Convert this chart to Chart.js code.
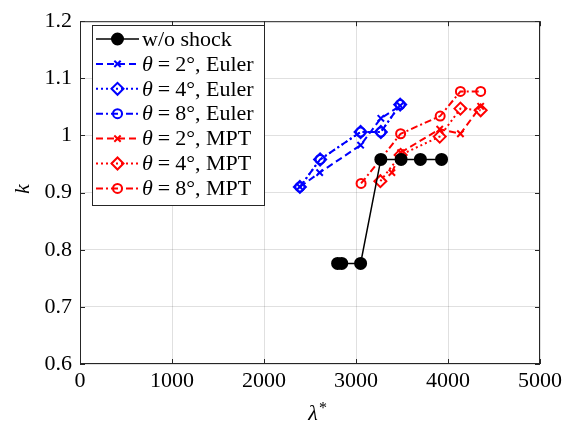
<!DOCTYPE html>
<html>
<head>
<meta charset="utf-8">
<script src="https://cdn.jsdelivr.net/npm/chart.js@4"></script>
<style>
  html, body { margin: 0; padding: 0; background: #fff; }
  #wrap { width: 566px; height: 423px; }
</style>
</head>
<body>
<div id="wrap"><canvas id="kChart" width="566" height="423"></canvas></div>
<script>
// tick positions
let xTicks = [0, 1000, 2000, 3000, 4000, 5000];
let yTicks = [0.6, 0.7, 0.8, 0.9, 1.0, 1.1, 1.2];

// without shock
let noShockX = [2800, 2845, 3050, 3270, 3490, 3700, 3930];
let noShockK = [0.776, 0.776, 0.776, 0.958, 0.958, 0.958, 0.958];

// Euler runs
let euler2X = [2390, 2605, 3050, 3270, 3480];
let euler2K = [0.910, 0.935, 0.983, 1.030, 1.052];
let euler4X = [2390, 2610, 3050, 3270, 3480];
let euler4K = [0.910, 0.958, 1.006, 1.006, 1.054];
let euler8X = [2390, 2610, 3050, 3270, 3480];
let euler8K = [0.910, 0.958, 1.006, 1.006, 1.054];

// MPT runs
let mpt2X = [3390, 3485, 3910, 4135, 4355];
let mpt2K = [0.935, 0.970, 1.011, 1.003, 1.051];
let mpt4X = [3265, 3485, 3910, 4135, 4355];
let mpt4K = [0.920, 0.966, 0.998, 1.047, 1.044];
let mpt8X = [3055, 3265, 3485, 3915, 4135, 4355];
let mpt8K = [0.916, 0.958, 1.003, 1.034, 1.077, 1.077];

const serif = '"Liberation Serif", "Times New Roman", serif';
const axisColor = '#262626';

function pts(xs, ks) {
    return xs.map((x, i) => ({ x: x, y: ks[i] }));
}

function series(label, xs, ks, color, dash, marker, size, filled) {
    return {
        label: label,
        data: pts(xs, ks),
        borderColor: color,
        backgroundColor: filled ? color : 'rgba(0,0,0,0)',
        borderWidth: 2,
        borderDash: dash,
        pointStyle: marker,
        pointRadius: size,
        pointBorderWidth: 2,
        pointBorderColor: color,
        pointBackgroundColor: filled ? color : 'rgba(0,0,0,0)',
        showLine: true,
        tension: 0
    };
}

const dashed = [7, 4];
const dotted = [2, 3];
const dashDot = [7, 3, 2, 3];

let datasets = [
    series('w/o shock', noShockX, noShockK, '#000000', [], 'circle', 5.5, true),
    series('θ = 2°, Euler', euler2X, euler2K, '#0000ff', dashed, 'crossRot', 4.5, false),
    series('θ = 4°, Euler', euler4X, euler4K, '#0000ff', dotted, 'rectRot', 6, false),
    series('θ = 8°, Euler', euler8X, euler8K, '#0000ff', dashDot, 'circle', 4.5, false),
    series('θ = 2°, MPT', mpt2X, mpt2K, '#ff0000', dashed, 'crossRot', 4.5, false),
    series('θ = 4°, MPT', mpt4X, mpt4K, '#ff0000', dotted, 'rectRot', 6, false),
    series('θ = 8°, MPT', mpt8X, mpt8K, '#ff0000', dashDot, 'circle', 4.5, false)
];
datasets[0].borderWidth = 1.5;

// box, inward ticks, axis titles and legend
let framePlugin = {
    id: 'frame',
    afterDraw(chart) {
        let ctx = chart.ctx;
        let a = chart.chartArea;
        let xs = chart.scales.x, ys = chart.scales.y;
        ctx.save();
        ctx.strokeStyle = axisColor;
        ctx.lineWidth = 1;
        ctx.setLineDash([]);
        ctx.strokeRect(a.left + 0.5, a.top + 0.5, a.right - a.left - 1, a.bottom - a.top - 1);
        ctx.beginPath();
        xTicks.forEach(v => {
            let px = Math.round(xs.getPixelForValue(v)) + 0.5;
            ctx.moveTo(px, a.bottom); ctx.lineTo(px, a.bottom - 5);
            ctx.moveTo(px, a.top); ctx.lineTo(px, a.top + 5);
        });
        yTicks.forEach(v => {
            let py = Math.round(ys.getPixelForValue(v)) + 0.5;
            ctx.moveTo(a.left, py); ctx.lineTo(a.left + 5, py);
            ctx.moveTo(a.right, py); ctx.lineTo(a.right - 5, py);
        });
        ctx.stroke();

        // axis titles
        ctx.fillStyle = '#000';
        ctx.font = 'italic 22px ' + serif;
        ctx.textAlign = 'center';
        ctx.textBaseline = 'alphabetic';
        ctx.fillText('λ', 313, 420);
        ctx.font = '16px ' + serif;
        ctx.fillText('*', 323, 413);
        ctx.save();
        ctx.translate(29, 189);
        ctx.rotate(-Math.PI / 2);
        ctx.font = 'italic 22px ' + serif;
        ctx.fillText('k', 0, 0);
        ctx.restore();

        drawLegend(chart);
        ctx.restore();
    }
};

function drawLegend(chart) {
    let ctx = chart.ctx;
    let box = { x: 92.5, y: 25.5, w: 172, h: 180 };
    ctx.fillStyle = '#fff';
    ctx.fillRect(box.x, box.y, box.w, box.h);
    ctx.strokeStyle = axisColor;
    ctx.lineWidth = 1;
    ctx.setLineDash([]);
    ctx.strokeRect(box.x, box.y, box.w, box.h);

    chart.data.datasets.forEach((ds, i) => {
        let y = 39 + i * 24.9;
        ctx.save();
        ctx.strokeStyle = ds.borderColor;
        ctx.lineWidth = ds.borderWidth;
        ctx.setLineDash(ds.borderDash);
        ctx.beginPath();
        ctx.moveTo(96, y);
        ctx.lineTo(139, y);
        ctx.stroke();
        ctx.setLineDash([]);
        ctx.lineWidth = ds.pointBorderWidth;
        ctx.fillStyle = ds.pointBackgroundColor;
        Chart.helpers.drawPoint(ctx, {
            pointStyle: ds.pointStyle,
            radius: ds.pointRadius,
            rotation: 0,
            borderWidth: ds.pointBorderWidth
        }, 117.5, y);
        ctx.restore();

        ctx.fillStyle = '#000';
        ctx.textAlign = 'left';
        ctx.textBaseline = 'middle';
        let x = 142;
        let text = ds.label;
        if (text.startsWith('θ')) {
            // math-style spacing around the equals sign
            ctx.font = 'italic 22px ' + serif;
            ctx.fillText('θ', x, y + 1);
            x += ctx.measureText('θ').width + 5;
            ctx.font = '22px ' + serif;
            ctx.fillText('=', x, y + 1);
            x += ctx.measureText('=').width + 5;
            text = text.slice(text.indexOf('=') + 2);
        }
        ctx.font = '22px ' + serif;
        ctx.fillText(text, x, y + 1);
    });
}

new Chart(document.getElementById('kChart'), {
    type: 'scatter',
    data: { datasets: datasets },
    plugins: [framePlugin],
    options: {
        responsive: false,
        animation: false,
        layout: { padding: { top: 14, right: 22, left: 0, bottom: 0 } },
        plugins: {
            legend: { display: false },
            tooltip: { enabled: false }
        },
        scales: {
            x: {
                type: 'linear',
                min: 0,
                max: 5000,
                afterBuildTicks: s => { s.ticks = xTicks.map(v => ({ value: v })); },
                afterFit: s => { s.height = 59; },
                border: { display: false },
                grid: { color: 'rgba(0,0,0,0.12)', drawTicks: false },
                ticks: {
                    color: '#000',
                    padding: 4,
                    maxRotation: 0,
                    font: { family: serif, size: 22 },
                    callback: v => String(v)
                }
            },
            y: {
                type: 'linear',
                min: 0.6,
                max: 1.2,
                afterBuildTicks: s => { s.ticks = yTicks.map(v => ({ value: v })); },
                afterFit: s => { s.width = 80; },
                border: { display: false },
                grid: { color: 'rgba(0,0,0,0.12)', drawTicks: false },
                ticks: {
                    color: '#000',
                    padding: 8,
                    font: { family: serif, size: 22 },
                    callback: v => String(Math.round(v * 10) / 10)
                }
            }
        }
    }
});
</script>
</body>
</html>
